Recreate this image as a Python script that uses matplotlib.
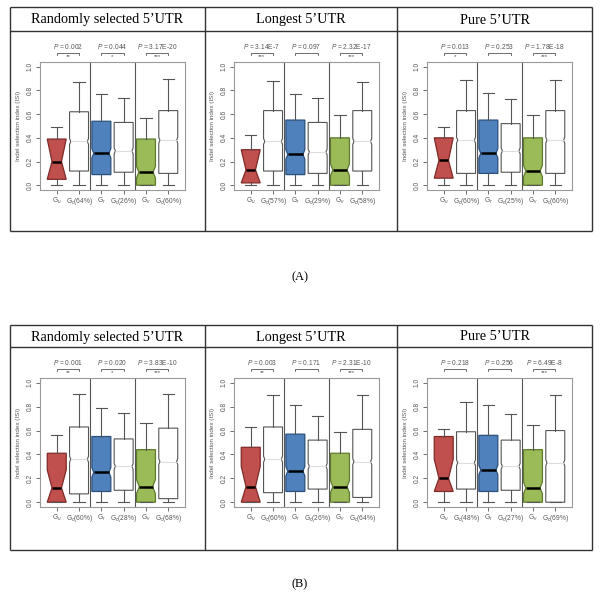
import numpy as np
import matplotlib
matplotlib.use("Agg")
from matplotlib import pyplot as plt

plt.rcParams['font.family'] = ['Liberation Sans', 'DejaVu Sans']
plt.rcParams['mathtext.fontset'] = 'custom'
plt.rcParams['mathtext.rm'] = 'Liberation Sans'
plt.rcParams['mathtext.it'] = 'Liberation Sans:italic'

# column titles and panel tags
titles = ["Randomly selected 5\u2019UTR", "Longest 5\u2019UTR", "Pure 5\u2019UTR"]
tags = ["(A)", "(B)"]

# box labels: G_u / G_r / G_v against the control G_c(pct)
groups = ["u", "r", "v"]
pct_A = [[64, 26, 60], [57, 29, 58], [60, 25, 60]]
pct_B = [[60, 28, 68], [60, 26, 64], [48, 27, 69]]

# box stats per panel, 6 boxes each: [whislo, q1, med, q3, whishi]
stats_A = [
    [[0, .05, .20, .39, .49], [0, .12, .37, .62, .87], [0, .09, .27, .54, .77],
     [0, .11, .29, .53, .74], [0, .00, .11, .39, .57], [0, .10, .38, .63, .90]],
    [[0, .02, .13, .30, .42], [0, .12, .37, .63, .88], [0, .09, .26, .55, .77],
     [0, .10, .28, .53, .74], [0, .00, .13, .40, .59], [0, .12, .37, .63, .87]],
    [[0, .06, .21, .40, .49], [0, .10, .38, .63, .89], [0, .10, .27, .55, .78],
     [0, .11, .29, .52, .73], [0, .00, .12, .40, .59], [0, .10, .38, .63, .89]],
]
stats_B = [
    [[0, .00, .12, .41, .56], [0, .07, .36, .63, .91], [0, .09, .25, .55, .79],
     [0, .10, .30, .53, .75], [0, .00, .13, .44, .66], [0, .03, .34, .62, .91]],
    [[0, .00, .13, .46, .63], [0, .08, .36, .63, .90], [0, .09, .26, .57, .81],
     [0, .11, .30, .52, .72], [0, .00, .13, .41, .59], [0, .04, .34, .61, .90]],
    [[0, .09, .20, .55, .61], [0, .11, .33, .59, .84], [0, .09, .27, .56, .81],
     [0, .10, .30, .52, .74], [0, .00, .12, .44, .65], [0, .00, .33, .60, .90]],
]
# notch half-heights (ISI units)
notch_A = [[.20, .025, .04, .025, .05, .025], [.17, .025, .04, .025, .05, .025], [.20, .025, .04, .025, .05, .025]]
notch_B = [[.15, .025, .04, .025, .06, .025], [.17, .025, .04, .025, .05, .025], [.16, .025, .04, .025, .05, .025]]

# p-values and stars for the three comparisons
pvals_A = [["0.002", "0.044", "3.17E-20"], ["3.14E-7", "0.097", "2.32E-17"], ["0.013", "0.253", "1.78E-18"]]
stars_A = [["**", "*", "***"], ["***", "", "***"], ["*", "", "***"]]
pvals_B = [["0.001", "0.020", "3.83E-10"], ["0.003", "0.171", "2.31E-10"], ["0.218", "0.256", "6.49E-8"]]
stars_B = [["**", "*", "***"], ["**", "", "***"], ["", "", "***"]]

fills = ["#C0504D", "#4F81BD", "#9BBB59"]
edges = ["#7F2A28", "#2C4F7C", "#5E7A2C"]

W, H = 600, 598
fig = plt.figure(figsize=(6.0, 5.98), dpi=100)

# frame lines of the two tables
over = fig.add_axes([0, 0, 1, 1])
over.set_xlim(0, W)
over.set_ylim(H, 0)
over.axis('off')
tables = [(7, 31, 231, 277), (325, 347, 550, 584)]
for (top, hline, bot, tagy), tag in zip(tables, tags):
    over.hlines([top, hline, bot], 10, 592, color='#333333', lw=1)
    over.vlines([10, 205, 397, 592], top, bot, color='#333333', lw=1)
    for i, t in enumerate(titles):
        cx = [107.5, 301, 494.5][i]
        over.text(cx, (top + hline) / 2 + 1, t, ha='center', va='center',
                  family='Liberation Serif', fontsize=10.3)
    over.text(300, tagy, tag, ha='center', va='center', family='Liberation Serif', fontsize=9)

lefts = [40, 234, 427]
rows = [(62, 190, stats_A, notch_A, pct_A, pvals_A, stars_A),
        (378, 507, stats_B, notch_B, pct_B, pvals_B, stars_B)]
gray = '#555555'
bw = 0.85

for top, bot, S, N, P, PV, ST in rows:
    for j in range(3):
        ax = fig.add_axes([lefts[j] / W, 1 - bot / H, 145 / W, (bot - top) / H])
        bs = []
        for k in range(6):
            lo, q1, med, q3, hi = S[j][k]
            n = N[j][k]
            bs.append(dict(whislo=lo, q1=q1, med=med, q3=q3, whishi=hi,
                           cilo=max(med - n, q1), cihi=min(med + n, q3), fliers=[]))
        art = ax.bxp(bs, positions=range(1, 7), widths=bw, shownotches=True,
                     patch_artist=True, showfliers=False, capwidths=0.5,
                     whiskerprops=dict(color=gray, lw=0.8),
                     capprops=dict(color=gray, lw=0.8))
        for k in range(6):
            box = art['boxes'][k]
            medl = art['medians'][k]
            # shallower notch for short notch intervals
            depth = min(0.5, 5.0 * N[j][k])
            pos = k + 1
            v = box.get_path().vertices
            v[3, 0] = pos + bw / 2 * (1 - depth)
            v[8, 0] = pos - bw / 2 * (1 - depth)
            medl.set_xdata([v[8, 0], v[3, 0]])
            if k % 2 == 0:
                box.set_facecolor(fills[k // 2])
                box.set_edgecolor(edges[k // 2])
                box.set_linewidth(0.9)
                medl.set_color('black')
                medl.set_linewidth(1.8)
            else:
                box.set_facecolor('white')
                box.set_edgecolor(gray)
                box.set_linewidth(0.8)
                medl.set_color('#dddddd')
                medl.set_linewidth(0.8)
        ax.axvline(2.5, color=gray, lw=0.8)
        ax.axvline(4.5, color=gray, lw=0.8)
        ax.set_xlim(0.25, 6.75)
        ax.set_ylim(-0.04, 1.04)
        for s in ax.spines.values():
            s.set_color('#999999')
            s.set_linewidth(0.8)
        ax.set_yticks(np.arange(0, 1.01, 0.2))
        ax.set_yticklabels(["%.1f" % v for v in np.arange(0, 1.01, 0.2)],
                           rotation=90, va='center', fontsize=4.8, color=gray)
        labels = []
        for g, p in zip(groups, P[j]):
            labels += [r"G$_{%s}$" % g, r"G$_{c}$(%d%%)" % p]
        ax.set_xticks(range(1, 7))
        ax.set_xticklabels(labels, fontsize=4.8, color=gray)
        ax.tick_params(length=3, width=0.6, color=gray, pad=1.5)
        ax.set_ylabel("Indel selection index (ISI)", fontsize=4.5, color=gray)
        ax.yaxis.set_label_coords(-19 / 145, 0.5)
        for c in range(3):
            x1, x2 = 2 * c + 1, 2 * c + 2
            ax.plot([x1, x1, x2, x2], [1.10, 1.115, 1.115, 1.10], color=gray,
                    lw=0.6, clip_on=False)
            ax.text((x1 + x2) / 2, 1.13, r"$\it{P}$ = " + PV[j][c], ha='center',
                    va='bottom', fontsize=4.8, color=gray, clip_on=False)
            if ST[j][c]:
                ax.text((x1 + x2) / 2, 1.085, ST[j][c], ha='center', va='center',
                        fontsize=4.5, color=gray, clip_on=False)

fig.savefig("out.png", dpi=100)
